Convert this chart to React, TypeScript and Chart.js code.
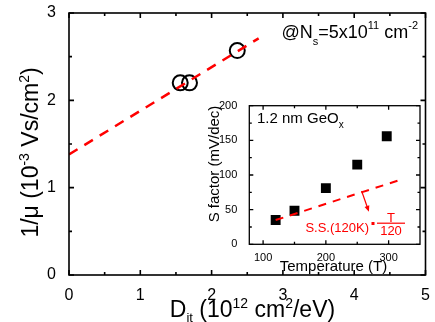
import React, { useEffect, useRef } from "react";
import { Chart, registerables } from "chart.js";

Chart.register(...registerables);

const FONT = "'Liberation Sans', Arial, Helvetica, sans-serif";
const RED = "#ff0000";

// ---- main chart data ----
const mainDit = [1.56, 1.69, 2.36];
const mainInvMu = [2.2, 2.2, 2.57];
const fitDit = [0, 2.66];
const fitInvMu = [1.38, 2.71];
const mainXTicks = [0, 1, 2, 3, 4, 5];
const mainYTicks = [0, 1, 2, 3];
const mainXMinor = [0.5, 1.5, 2.5, 3.5, 4.5];
const mainYMinor = [0.5, 1.5, 2.5];

// ---- inset data ----
const insetTemp = [120, 150, 200, 250, 297];
const insetSS = [35, 48.5, 81, 115, 156];
const insetFitTemp = [120, 315];
const insetFitSS = [35, 92];
const arrowTemp = [257, 268.6];
const arrowSS = [77, 47];
const insetXTicks = [100, 200, 300];
const insetYTicks = [0, 50, 100, 150, 200];
const insetXMinor = [150, 250];
const insetYMinor = [25, 75, 125, 175];

type Part = { t: string; s: number; dy?: number };

function drawRich(
  ctx: CanvasRenderingContext2D,
  parts: Part[],
  x: number,
  y: number,
  align: "left" | "center" | "right",
  color: string
) {
  ctx.save();
  ctx.fillStyle = color;
  ctx.textBaseline = "alphabetic";
  ctx.textAlign = "left";
  let w = 0;
  for (const p of parts) {
    ctx.font = `${p.s}px ${FONT}`;
    w += ctx.measureText(p.t).width;
  }
  let cx = align === "center" ? x - w / 2 : align === "right" ? x - w : x;
  for (const p of parts) {
    ctx.font = `${p.s}px ${FONT}`;
    ctx.fillText(p.t, cx, y + (p.dy || 0));
    cx += ctx.measureText(p.t).width;
  }
  ctx.restore();
}

function drawFrame(
  chart: any,
  xMajor: number[],
  yMajor: number[],
  xMinor: number[],
  yMinor: number[],
  majLen: number,
  minLen: number,
  lw: number
) {
  const ctx: CanvasRenderingContext2D = chart.ctx;
  const a = chart.chartArea;
  const xs = chart.scales.x;
  const ys = chart.scales.y;
  const L = a.left;
  const R = a.right;
  const T = a.top;
  const B = a.bottom;
  ctx.save();
  ctx.setLineDash([]);
  ctx.strokeStyle = "#000";
  ctx.lineWidth = lw;
  ctx.lineCap = "butt";
  ctx.strokeRect(L, T, R - L, B - T);
  ctx.beginPath();
  const tx = (v: number, len: number) => {
    const px = xs.getPixelForValue(v);
    ctx.moveTo(px, B);
    ctx.lineTo(px, B - len);
    ctx.moveTo(px, T);
    ctx.lineTo(px, T + len);
  };
  const ty = (v: number, len: number) => {
    const py = ys.getPixelForValue(v);
    ctx.moveTo(L, py);
    ctx.lineTo(L + len, py);
    ctx.moveTo(R, py);
    ctx.lineTo(R - len, py);
  };
  xMajor.forEach((v) => tx(v, majLen));
  xMinor.forEach((v) => tx(v, minLen));
  yMajor.forEach((v) => ty(v, majLen));
  yMinor.forEach((v) => ty(v, minLen));
  ctx.stroke();
  ctx.restore();
}

export default function App() {
  const mainRef = useRef<HTMLCanvasElement>(null);
  const insetRef = useRef<HTMLCanvasElement>(null);

  useEffect(() => {
    document.body.style.margin = "0";
    Chart.defaults.color = "#000";
    Chart.defaults.font.family = FONT;

    const mainPlugin = {
      id: "mainDeco",
      afterDraw(chart: any) {
        drawFrame(chart, mainXTicks, mainYTicks, mainXMinor, mainYMinor, 5, 3, 1.6);
        const ctx: CanvasRenderingContext2D = chart.ctx;
        drawRich(
          ctx,
          [
            { t: "D", s: 23 },
            { t: "it", s: 13, dy: 5 },
            { t: " (10", s: 23 },
            { t: "12", s: 14, dy: -9 },
            { t: " cm", s: 23 },
            { t: "2", s: 14, dy: -9 },
            { t: "/eV)", s: 23 },
          ],
          252.5,
          317,
          "center",
          "#000"
        );
        ctx.save();
        ctx.translate(38, 152.5);
        ctx.rotate(-Math.PI / 2);
        drawRich(
          ctx,
          [
            { t: "1/\u03bc (10", s: 23 },
            { t: "-3", s: 14, dy: -9 },
            { t: " Vs/cm", s: 23 },
            { t: "2", s: 14, dy: -9 },
            { t: ")", s: 23 },
          ],
          0,
          0,
          "center",
          "#000"
        );
        ctx.restore();
        drawRich(
          ctx,
          [
            { t: "@N", s: 18 },
            { t: "s", s: 11, dy: 7 },
            { t: "=5x10", s: 18 },
            { t: "11", s: 11, dy: -9 },
            { t: " cm", s: 18 },
            { t: "-2", s: 11, dy: -9 },
          ],
          281.5,
          38,
          "left",
          "#000"
        );
      },
    };

    const insetPlugin = {
      id: "insetDeco",
      beforeDatasetsDraw(chart: any) {
        const ctx: CanvasRenderingContext2D = chart.ctx;
        const a = chart.chartArea;
        ctx.save();
        ctx.fillStyle = "#fff";
        ctx.fillRect(a.left, a.top, a.right - a.left, a.bottom - a.top);
        ctx.restore();
      },
      afterDraw(chart: any) {
        drawFrame(chart, insetXTicks, insetYTicks, insetXMinor, insetYMinor, 4, 2.5, 1.3);
        const ctx: CanvasRenderingContext2D = chart.ctx;
        const xs = chart.scales.x;
        const ys = chart.scales.y;
        const x0 = xs.getPixelForValue(arrowTemp[0]);
        const y0 = ys.getPixelForValue(arrowSS[0]);
        const x1 = xs.getPixelForValue(arrowTemp[1]);
        const y1 = ys.getPixelForValue(arrowSS[1]);
        const ang = Math.atan2(y1 - y0, x1 - x0);
        ctx.save();
        ctx.setLineDash([]);
        ctx.strokeStyle = RED;
        ctx.fillStyle = RED;
        ctx.lineWidth = 1.2;
        ctx.beginPath();
        ctx.moveTo(x0, y0);
        ctx.lineTo(x1 - 4 * Math.cos(ang), y1 - 4 * Math.sin(ang));
        ctx.stroke();
        ctx.beginPath();
        ctx.moveTo(x1, y1);
        ctx.lineTo(x1 - 6 * Math.cos(ang) + 2.5 * Math.sin(ang), y1 - 6 * Math.sin(ang) - 2.5 * Math.cos(ang));
        ctx.lineTo(x1 - 6 * Math.cos(ang) - 2.5 * Math.sin(ang), y1 - 6 * Math.sin(ang) + 2.5 * Math.cos(ang));
        ctx.closePath();
        ctx.fill();
        drawRich(ctx, [{ t: "S.S.(120K)", s: 13 }], 369, 232, "right", RED);
        ctx.fillRect(371.5, 222, 3, 3);
        drawRich(ctx, [{ t: "T", s: 13 }], 391, 221.5, "center", RED);
        ctx.fillRect(377, 222.6, 28, 1.2);
        drawRich(ctx, [{ t: "120", s: 13 }], 391, 235, "center", RED);
        ctx.restore();
        drawRich(
          ctx,
          [
            { t: "1.2 nm GeO", s: 15 },
            { t: "x", s: 10, dy: 5 },
          ],
          257,
          123.3,
          "left",
          "#000"
        );
        drawRich(ctx, [{ t: "Temperature (T)", s: 15 }], 333.5, 271, "center", "#000");
        ctx.save();
        ctx.translate(219, 164);
        ctx.rotate(-Math.PI / 2);
        drawRich(ctx, [{ t: "S factor (mV/dec)", s: 15 }], 0, 0, "center", "#000");
        ctx.restore();
      },
    };

    const fixX = (ticksArr: number[], h: number) => ({
      afterBuildTicks: (s: any) => {
        s.ticks = ticksArr.map((v) => ({ value: v }));
      },
      afterFit: (s: any) => {
        s.height = h;
        s.paddingLeft = 0;
        s.paddingRight = 0;
      },
    });
    const fixY = (ticksArr: number[], w: number) => ({
      afterBuildTicks: (s: any) => {
        s.ticks = ticksArr.map((v) => ({ value: v }));
      },
      afterFit: (s: any) => {
        s.width = w;
        s.paddingTop = 0;
        s.paddingBottom = 0;
      },
    });

    const main = new Chart(mainRef.current!, {
      type: "scatter",
      data: {
        datasets: [
          {
            data: fitDit.map((x, i) => ({ x, y: fitInvMu[i] })),
            showLine: true,
            borderColor: RED,
            borderWidth: 2.5,
            borderDash: [10, 8],
            pointRadius: 0,
          },
          {
            data: mainDit.map((x, i) => ({ x, y: mainInvMu[i] })),
            pointStyle: "circle",
            pointRadius: 7.5,
            pointBorderWidth: 2,
            pointBorderColor: "#000",
            pointBackgroundColor: "rgba(0,0,0,0)",
            borderColor: "#000",
            backgroundColor: "rgba(0,0,0,0)",
          },
        ],
      },
      options: {
        animation: false,
        responsive: false,
        maintainAspectRatio: false,
        events: [],
        layout: { padding: { left: 0, right: 4, top: 13, bottom: 0 } },
        plugins: { legend: { display: false }, tooltip: { enabled: false } },
        scales: {
          x: {
            type: "linear",
            min: 0,
            max: 5,
            grid: { display: false },
            border: { display: false },
            ticks: { font: { size: 16, family: FONT }, padding: 3, color: "#000", maxRotation: 0 },
            ...fixX(mainXTicks, 47),
          },
          y: {
            type: "linear",
            min: 0,
            max: 3,
            grid: { display: false },
            border: { display: false },
            ticks: { font: { size: 16, family: FONT }, padding: 5, color: "#000" },
            ...fixY(mainYTicks, 69),
          },
        },
      },
      plugins: [mainPlugin],
    } as any);

    const inset = new Chart(insetRef.current!, {
      type: "scatter",
      data: {
        datasets: [
          {
            data: insetFitTemp.map((x, i) => ({ x, y: insetFitSS[i] })),
            showLine: true,
            borderColor: RED,
            borderWidth: 2,
            borderDash: [8, 7],
            pointRadius: 0,
          },
          {
            data: insetTemp.map((x, i) => ({ x, y: insetSS[i] })),
            pointStyle: "rect",
            pointRadius: 7,
            pointBorderWidth: 0,
            pointBackgroundColor: "#000",
            pointBorderColor: "#000",
            backgroundColor: "#000",
            borderColor: "#000",
          },
        ],
      },
      options: {
        animation: false,
        responsive: false,
        maintainAspectRatio: false,
        events: [],
        layout: { padding: { left: 209.3, right: 15, top: 105.7, bottom: 47.7 } },
        plugins: { legend: { display: false }, tooltip: { enabled: false } },
        scales: {
          x: {
            type: "linear",
            min: 78,
            max: 350,
            grid: { display: false },
            border: { display: false },
            ticks: { font: { size: 11, family: FONT }, padding: -1, color: "#000", maxRotation: 0 },
            ...fixX(insetXTicks, 30),
          },
          y: {
            type: "linear",
            min: 0,
            max: 200,
            grid: { display: false },
            border: { display: false },
            ticks: { font: { size: 11, family: FONT }, padding: 4, color: "#000" },
            ...fixY(insetYTicks, 40),
          },
        },
      },
      plugins: [insetPlugin],
    } as any);

    return () => {
      main.destroy();
      inset.destroy();
    };
  }, []);

  return (
    <div style={{ position: "relative", width: 435, height: 322, background: "#fff" }}>
      <canvas ref={mainRef} width={435} height={322} style={{ position: "absolute", left: 0, top: 0, width: 435, height: 322 }} />
      <canvas
        ref={insetRef}
        width={435}
        height={322}
        style={{ position: "absolute", left: 0, top: 0, width: 435, height: 322, pointerEvents: "none" }}
      />
    </div>
  );
}
